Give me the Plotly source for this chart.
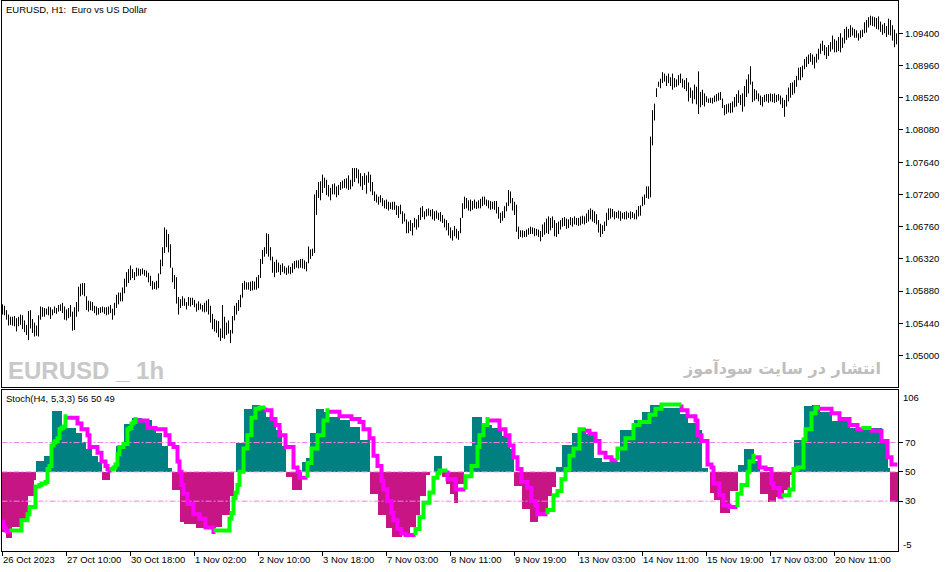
import plotly.graph_objects as go

# 价格数据: EURUSD H1 每根K线的最高价 / 最低价 (每行32根)
bar_high = [
    1.0570, 1.0568, 1.0562, 1.0556, 1.0553, 1.0553, 1.0554, 1.0551, 1.0553, 1.0556, 1.0555, 1.0548, 1.0542, 1.0561, 1.0562, 1.0550,
    1.0545, 1.0541, 1.0555, 1.0567, 1.0566, 1.0565, 1.0564, 1.0567, 1.0566, 1.0563, 1.0567, 1.0565, 1.0569, 1.0570, 1.0572, 1.0567,
    1.0563, 1.0565, 1.0569, 1.0560, 1.0566, 1.0573, 1.0594, 1.0598, 1.0599, 1.0599, 1.0581, 1.0575, 1.0574, 1.0573, 1.0568, 1.0567,
    1.0565, 1.0566, 1.0567, 1.0566, 1.0566, 1.0567, 1.0569, 1.0564, 1.0572, 1.0583, 1.0586, 1.0586, 1.0593, 1.0605, 1.0614, 1.0618,
    1.0623, 1.0618, 1.0614, 1.0620, 1.0619, 1.0618, 1.0619, 1.0617, 1.0616, 1.0613, 1.0609, 1.0602, 1.0600, 1.0602, 1.0612, 1.0631,
    1.0648, 1.0675, 1.0672, 1.0666, 1.0652, 1.0620, 1.0610, 1.0607, 1.0580, 1.0577, 1.0581, 1.0578, 1.0573, 1.0580, 1.0579, 1.0579,
    1.0576, 1.0571, 1.0574, 1.0571, 1.0569, 1.0572, 1.0575, 1.0577, 1.0568, 1.0557, 1.0550, 1.0548, 1.0547, 1.0537, 1.0569, 1.0553,
    1.0545, 1.0548, 1.0535, 1.0554, 1.0568, 1.0572, 1.0576, 1.0583, 1.0599, 1.0602, 1.0600, 1.0600, 1.0601, 1.0602, 1.0601, 1.0607,
    1.0610, 1.0632, 1.0644, 1.0648, 1.0667, 1.0666, 1.0648, 1.0635, 1.0628, 1.0631, 1.0627, 1.0624, 1.0626, 1.0622, 1.0620, 1.0623,
    1.0621, 1.0626, 1.0629, 1.0630, 1.0630, 1.0632, 1.0632, 1.0630, 1.0628, 1.0649, 1.0645, 1.0646, 1.0720, 1.0726, 1.0737, 1.0738,
    1.0747, 1.0743, 1.0740, 1.0733, 1.0729, 1.0734, 1.0735, 1.0731, 1.0733, 1.0737, 1.0739, 1.0741, 1.0742, 1.0746, 1.0740, 1.0756,
    1.0756, 1.0756, 1.0754, 1.0749, 1.0745, 1.0749, 1.0746, 1.0751, 1.0747, 1.0737, 1.0724, 1.0720, 1.0717, 1.0719, 1.0715, 1.0712,
    1.0713, 1.0710, 1.0709, 1.0710, 1.0710, 1.0705, 1.0704, 1.0706, 1.0697, 1.0694, 1.0686, 1.0683, 1.0685, 1.0681, 1.0688, 1.0686,
    1.0692, 1.0702, 1.0704, 1.0697, 1.0700, 1.0701, 1.0699, 1.0700, 1.0697, 1.0698, 1.0695, 1.0696, 1.0692, 1.0687, 1.0685, 1.0681,
    1.0675, 1.0671, 1.0677, 1.0673, 1.0670, 1.0688, 1.0708, 1.0717, 1.0715, 1.0712, 1.0713, 1.0711, 1.0713, 1.0710, 1.0712, 1.0714,
    1.0717, 1.0717, 1.0713, 1.0712, 1.0711, 1.0710, 1.0711, 1.0711, 1.0703, 1.0695, 1.0697, 1.0704, 1.0709, 1.0726, 1.0724, 1.0715,
    1.0710, 1.0706, 1.0676, 1.0671, 1.0671, 1.0670, 1.0672, 1.0674, 1.0676, 1.0675, 1.0674, 1.0673, 1.0672, 1.0670, 1.0679, 1.0682,
    1.0687, 1.0690, 1.0688, 1.0690, 1.0685, 1.0681, 1.0683, 1.0685, 1.0688, 1.0689, 1.0687, 1.0686, 1.0689, 1.0688, 1.0690, 1.0688,
    1.0688, 1.0690, 1.0691, 1.0690, 1.0694, 1.0699, 1.0701, 1.0699, 1.0697, 1.0693, 1.0685, 1.0680, 1.0678, 1.0683, 1.0695, 1.0701,
    1.0701, 1.0700, 1.0697, 1.0696, 1.0698, 1.0697, 1.0695, 1.0696, 1.0697, 1.0695, 1.0697, 1.0696, 1.0694, 1.0699, 1.0704, 1.0705,
    1.0717, 1.0720, 1.0731, 1.0731, 1.0799, 1.0835, 1.0844, 1.0865, 1.0874, 1.0878, 1.0887, 1.0885, 1.0882, 1.0885, 1.0880, 1.0885,
    1.0879, 1.0877, 1.0883, 1.0885, 1.0878, 1.0876, 1.0879, 1.0873, 1.0866, 1.0862, 1.0870, 1.0867, 1.0888, 1.0860, 1.0863, 1.0858,
    1.0854, 1.0851, 1.0852, 1.0852, 1.0855, 1.0857, 1.0859, 1.0860, 1.0851, 1.0842, 1.0843, 1.0844, 1.0845, 1.0847, 1.0853, 1.0857,
    1.0862, 1.0856, 1.0858, 1.0868, 1.0877, 1.0884, 1.0895, 1.0874, 1.0864, 1.0862, 1.0858, 1.0855, 1.0853, 1.0856, 1.0857, 1.0857,
    1.0858, 1.0857, 1.0858, 1.0856, 1.0857, 1.0855, 1.0852, 1.0849, 1.0856, 1.0866, 1.0872, 1.0873, 1.0876, 1.0882, 1.0893, 1.0894,
    1.0896, 1.0905, 1.0908, 1.0911, 1.0913, 1.0911, 1.0908, 1.0912, 1.0919, 1.0926, 1.0930, 1.0924, 1.0921, 1.0924, 1.0928, 1.0937,
    1.0932, 1.0930, 1.0935, 1.0940, 1.0934, 1.0946, 1.0949, 1.0946, 1.0951, 1.0948, 1.0946, 1.0944, 1.0940, 1.0944, 1.0945, 1.0955,
    1.0958, 1.0962, 1.0964, 1.0963, 1.0962, 1.0961, 1.0963, 1.0956, 1.0952, 1.0954, 1.0950, 1.0960, 1.0958, 1.0951, 1.0945, 1.0940,
]

bar_low = [
    1.0556, 1.0555, 1.0549, 1.0541, 1.0542, 1.0541, 1.0540, 1.0533, 1.0540, 1.0542, 1.0536, 1.0532, 1.0528, 1.0521, 1.0537, 1.0531,
    1.0526, 1.0527, 1.0526, 1.0549, 1.0553, 1.0553, 1.0556, 1.0555, 1.0550, 1.0555, 1.0558, 1.0557, 1.0560, 1.0561, 1.0558, 1.0549,
    1.0548, 1.0551, 1.0553, 1.0534, 1.0535, 1.0553, 1.0560, 1.0581, 1.0583, 1.0581, 1.0562, 1.0560, 1.0562, 1.0561, 1.0558, 1.0555,
    1.0556, 1.0558, 1.0559, 1.0557, 1.0555, 1.0556, 1.0558, 1.0549, 1.0555, 1.0565, 1.0570, 1.0574, 1.0574, 1.0585, 1.0594, 1.0599,
    1.0603, 1.0606, 1.0603, 1.0608, 1.0609, 1.0609, 1.0611, 1.0609, 1.0607, 1.0600, 1.0595, 1.0590, 1.0591, 1.0590, 1.0592, 1.0611,
    1.0622, 1.0640, 1.0648, 1.0641, 1.0620, 1.0600, 1.0591, 1.0571, 1.0556, 1.0565, 1.0568, 1.0568, 1.0563, 1.0568, 1.0567, 1.0569,
    1.0566, 1.0560, 1.0562, 1.0563, 1.0560, 1.0559, 1.0560, 1.0556, 1.0545, 1.0536, 1.0533, 1.0531, 1.0525, 1.0520, 1.0524, 1.0523,
    1.0528, 1.0530, 1.0517, 1.0530, 1.0548, 1.0556, 1.0561, 1.0566, 1.0579, 1.0590, 1.0590, 1.0590, 1.0588, 1.0589, 1.0590, 1.0590,
    1.0592, 1.0606, 1.0625, 1.0635, 1.0639, 1.0635, 1.0630, 1.0613, 1.0607, 1.0613, 1.0614, 1.0610, 1.0614, 1.0612, 1.0610, 1.0612,
    1.0611, 1.0613, 1.0618, 1.0620, 1.0619, 1.0620, 1.0619, 1.0618, 1.0615, 1.0626, 1.0632, 1.0636, 1.0640, 1.0692, 1.0715, 1.0712,
    1.0722, 1.0729, 1.0719, 1.0717, 1.0712, 1.0720, 1.0720, 1.0716, 1.0719, 1.0726, 1.0728, 1.0729, 1.0728, 1.0726, 1.0727, 1.0731,
    1.0737, 1.0742, 1.0735, 1.0731, 1.0726, 1.0733, 1.0721, 1.0736, 1.0724, 1.0719, 1.0711, 1.0709, 1.0706, 1.0709, 1.0704, 1.0701,
    1.0700, 1.0698, 1.0700, 1.0699, 1.0699, 1.0692, 1.0688, 1.0693, 1.0680, 1.0683, 1.0667, 1.0667, 1.0670, 1.0664, 1.0675, 1.0672,
    1.0675, 1.0685, 1.0689, 1.0686, 1.0690, 1.0691, 1.0690, 1.0686, 1.0684, 1.0687, 1.0685, 1.0683, 1.0681, 1.0675, 1.0671, 1.0664,
    1.0660, 1.0657, 1.0663, 1.0660, 1.0658, 1.0667, 1.0688, 1.0700, 1.0701, 1.0698, 1.0697, 1.0699, 1.0701, 1.0700, 1.0701, 1.0701,
    1.0704, 1.0706, 1.0704, 1.0701, 1.0699, 1.0700, 1.0699, 1.0694, 1.0687, 1.0681, 1.0684, 1.0688, 1.0697, 1.0704, 1.0708, 1.0698,
    1.0692, 1.0669, 1.0659, 1.0662, 1.0661, 1.0662, 1.0662, 1.0665, 1.0666, 1.0666, 1.0663, 1.0664, 1.0662, 1.0656, 1.0662, 1.0665,
    1.0667, 1.0666, 1.0671, 1.0674, 1.0663, 1.0662, 1.0666, 1.0672, 1.0676, 1.0677, 1.0673, 1.0674, 1.0678, 1.0676, 1.0679, 1.0678,
    1.0677, 1.0678, 1.0680, 1.0679, 1.0681, 1.0683, 1.0686, 1.0683, 1.0681, 1.0679, 1.0668, 1.0662, 1.0666, 1.0670, 1.0677, 1.0685,
    1.0687, 1.0689, 1.0686, 1.0688, 1.0687, 1.0684, 1.0687, 1.0686, 1.0686, 1.0688, 1.0686, 1.0688, 1.0686, 1.0686, 1.0690, 1.0691,
    1.0704, 1.0706, 1.0715, 1.0714, 1.0716, 1.0787, 1.0821, 1.0853, 1.0867, 1.0865, 1.0872, 1.0874, 1.0868, 1.0872, 1.0868, 1.0863,
    1.0866, 1.0867, 1.0869, 1.0872, 1.0866, 1.0864, 1.0861, 1.0847, 1.0852, 1.0844, 1.0850, 1.0843, 1.0830, 1.0839, 1.0842, 1.0840,
    1.0846, 1.0845, 1.0845, 1.0844, 1.0846, 1.0847, 1.0848, 1.0849, 1.0838, 1.0828, 1.0830, 1.0832, 1.0831, 1.0832, 1.0839, 1.0840,
    1.0845, 1.0842, 1.0833, 1.0840, 1.0853, 1.0858, 1.0870, 1.0846, 1.0848, 1.0850, 1.0847, 1.0842, 1.0840, 1.0846, 1.0847, 1.0845,
    1.0847, 1.0846, 1.0845, 1.0846, 1.0848, 1.0843, 1.0838, 1.0826, 1.0840, 1.0847, 1.0852, 1.0856, 1.0858, 1.0867, 1.0876, 1.0876,
    1.0880, 1.0891, 1.0894, 1.0898, 1.0901, 1.0897, 1.0892, 1.0900, 1.0904, 1.0912, 1.0916, 1.0910, 1.0905, 1.0909, 1.0915, 1.0918,
    1.0914, 1.0914, 1.0916, 1.0914, 1.0920, 1.0926, 1.0931, 1.0934, 1.0935, 1.0937, 1.0934, 1.0934, 1.0930, 1.0933, 1.0935, 1.0940,
    1.0941, 1.0948, 1.0951, 1.0950, 1.0949, 1.0946, 1.0945, 1.0942, 1.0938, 1.0940, 1.0935, 1.0938, 1.0937, 1.0930, 1.0921, 1.0925,
]

# Stoch(H4, 5,3,3) 线 (上升绿色, 下降洋红)
stoch_line = [
    16, 12, 10, 9, 9, 10, 10, 10, 10, 10, 17, 17, 17, 21, 26, 26, 26, 40, 40, 41, 42, 42, 43, 52, 54, 68, 70, 71, 73, 79, 80, 81,
    88, 87, 87, 87, 87, 87, 83, 83, 79, 79, 79, 75, 67, 67, 67, 67, 63, 63, 57, 57, 54, 52, 51, 52, 53, 55, 62, 67, 67, 69, 69, 79,
    80, 83, 84, 86, 85, 85, 85, 85, 85, 80, 80, 80, 80, 79, 79, 79, 79, 79, 75, 75, 69, 69, 67, 67, 57, 50, 41, 35, 35, 28, 28, 28,
    21, 21, 21, 18, 18, 18, 12, 12, 12, 12, 9, 10, 10, 10, 10, 10, 10, 10, 18, 22, 32, 36, 41, 50, 50, 66, 66, 75, 75, 87, 87, 93,
    93, 94, 94, 94, 92, 92, 92, 86, 86, 82, 82, 75, 75, 75, 67, 67, 67, 67, 53, 53, 50, 46, 46, 46, 46, 56, 56, 66, 66, 66, 75, 75,
    75, 85, 85, 92, 91, 91, 91, 91, 91, 88, 88, 88, 88, 88, 88, 86, 86, 86, 86, 84, 84, 79, 79, 79, 73, 73, 61, 61, 54, 54, 44, 38,
    38, 30, 30, 22, 17, 17, 11, 11, 8, 8, 7, 7, 7, 7, 7, 11, 11, 19, 19, 29, 29, 29, 36, 36, 46, 46, 49, 51, 51, 51, 51, 45,
    45, 45, 45, 38, 38, 38, 38, 38, 47, 47, 47, 54, 54, 54, 67, 75, 75, 82, 82, 86, 85, 85, 85, 85, 85, 79, 79, 79, 75, 75, 68, 68,
    60, 60, 52, 52, 43, 43, 43, 39, 39, 30, 30, 27, 21, 21, 21, 21, 21, 24, 24, 24, 34, 34, 37, 37, 45, 45, 52, 52, 61, 61, 66, 66,
    66, 79, 79, 79, 78, 78, 76, 76, 76, 71, 71, 63, 63, 63, 60, 60, 60, 58, 58, 58, 66, 66, 66, 66, 73, 73, 73, 73, 82, 82, 82, 84,
    84, 84, 84, 84, 89, 89, 89, 93, 93, 93, 96, 96, 96, 96, 96, 96, 96, 96, 96, 96, 92, 92, 92, 88, 88, 88, 88, 85, 75, 75, 71, 71,
    71, 55, 55, 53, 42, 42, 42, 34, 34, 27, 27, 27, 26, 26, 26, 26, 35, 35, 41, 41, 41, 50, 57, 57, 61, 60, 60, 53, 53, 53, 52, 52,
    52, 42, 39, 39, 39, 33, 33, 34, 34, 34, 38, 38, 52, 52, 53, 53, 53, 72, 79, 79, 79, 90, 90, 94, 94, 93, 93, 93, 93, 93, 93, 90,
    90, 90, 90, 86, 86, 86, 86, 86, 82, 82, 82, 82, 79, 79, 79, 80, 80, 80, 80, 78, 78, 78, 78, 78, 71, 71, 71, 60, 60, 55, 55, 55,
]

# 柱状图 (50以上青色, 50以下深洋红)
stoch_hist = [
    9, 9, 5, 5, 5, 13, 13, 13, 13, 18, 18, 18, 18, 34, 34, 34, 45, 58, 58, 58, 58, 61, 61, 61, 61, 92, 92, 92, 92, 92, 82, 82,
    80, 80, 80, 80, 80, 77, 77, 77, 71, 71, 66, 66, 66, 61, 61, 61, 57, 57, 45, 45, 45, 45, 50, 50, 50, 68, 68, 68, 68, 83, 83, 83,
    83, 87, 87, 87, 87, 87, 86, 86, 86, 86, 86, 79, 79, 77, 77, 77, 68, 68, 68, 53, 53, 38, 38, 38, 38, 16, 16, 15, 15, 15, 15, 15,
    15, 12, 12, 12, 12, 12, 12, 12, 12, 12, 12, 13, 13, 13, 21, 21, 21, 21, 34, 34, 50, 70, 70, 70, 70, 93, 93, 93, 93, 96, 96, 96,
    96, 93, 93, 93, 88, 88, 88, 88, 88, 79, 79, 79, 68, 68, 47, 47, 47, 38, 38, 38, 38, 38, 57, 57, 60, 60, 77, 77, 77, 93, 93, 93,
    93, 91, 91, 88, 88, 88, 88, 88, 88, 86, 86, 86, 86, 86, 81, 81, 81, 81, 81, 72, 72, 72, 72, 72, 35, 35, 35, 35, 21, 21, 21, 21,
    12, 12, 12, 6, 6, 6, 6, 6, 8, 8, 8, 8, 13, 13, 13, 21, 21, 34, 34, 34, 48, 48, 50, 50, 61, 61, 61, 61, 47, 47, 42, 42,
    35, 35, 29, 29, 42, 42, 42, 68, 68, 68, 68, 88, 88, 88, 88, 88, 82, 82, 82, 82, 82, 80, 80, 80, 80, 80, 75, 75, 75, 75, 66, 66,
    41, 41, 41, 41, 25, 25, 25, 25, 16, 16, 16, 16, 22, 22, 22, 22, 22, 34, 34, 40, 40, 54, 54, 54, 69, 69, 69, 69, 69, 77, 77, 77,
    80, 80, 80, 80, 76, 76, 76, 76, 60, 60, 60, 60, 57, 57, 57, 57, 57, 57, 57, 57, 57, 79, 79, 79, 79, 79, 79, 79, 86, 86, 86, 86,
    91, 91, 91, 91, 96, 96, 96, 96, 96, 96, 94, 94, 94, 94, 94, 94, 94, 94, 94, 90, 90, 90, 90, 84, 84, 84, 84, 79, 79, 79, 53, 53,
    53, 50, 36, 36, 31, 31, 31, 22, 22, 22, 22, 22, 37, 37, 37, 37, 55, 55, 55, 66, 66, 66, 66, 66, 58, 58, 58, 35, 35, 35, 35, 30,
    30, 30, 30, 33, 33, 33, 33, 38, 38, 38, 48, 48, 72, 72, 72, 72, 72, 95, 95, 95, 95, 96, 96, 96, 96, 91, 91, 91, 91, 91, 91, 85,
    85, 85, 85, 85, 85, 85, 85, 85, 80, 80, 80, 80, 80, 80, 80, 80, 80, 80, 80, 80, 80, 80, 80, 80, 72, 72, 72, 53, 30, 30, 30, 30,
]

levels = [30, 50, 70]

price_ticks = [1.05000, 1.05440, 1.05880, 1.06320, 1.06760, 1.07200,
               1.07640, 1.08080, 1.08520, 1.08960, 1.09400]
stoch_ticks = [70, 50, 30]

time_labels = ['26 Oct 2023', '27 Oct 10:00', '30 Oct 18:00', '1 Nov 02:00',
               '2 Nov 10:00', '3 Nov 18:00', '7 Nov 03:00', '8 Nov 11:00',
               '9 Nov 19:00', '13 Nov 03:00', '14 Nov 11:00', '15 Nov 19:00',
               '17 Nov 03:00', '20 Nov 11:00']
label_step = 32  # 每32根K线一个时间标签

FONT = 'Liberation Sans, Arial, sans-serif'
GREEN = '#00FF00'
MAGENTA = '#FF00FF'
TEAL = '#008080'
CRIMSON = '#C71585'
LEVEL = '#EE82EE'

W, H = 951, 572
ML, MR, MT, MB = 2, 53, 1, 21


def px(x):
    # 像素 -> paper 坐标
    return (x - ML) / (W - ML - MR)


def py(y):
    return (H - MB - y) / (H - MT - MB)


def stoch_segments(vals):
    # 按上升/下降把阶梯线分成绿色和洋红两组
    colors = []
    cur = None
    for i, v in enumerate(vals):
        if i > 0 and v > vals[i - 1]:
            cur = 'up'
        elif i > 0 and v < vals[i - 1]:
            cur = 'down'
        colors.append(cur)
    first = next(c for c in colors if c is not None)
    colors = [c if c is not None else first for c in colors]

    pts = {'up': ([], []), 'down': ([], [])}
    for i, v in enumerate(vals):
        xs, ys = pts[colors[i]]
        if i == 0 or colors[i] != colors[i - 1]:
            if xs:
                xs.append(None)
                ys.append(None)
            xs.append(i - 0.5)
            ys.append(vals[i - 1] if i > 0 else v)
        xs.extend([i - 0.5, i + 0.5])
        ys.extend([v, v])
    return pts


def plot_eurusd():
    n = len(bar_high)
    idx = list(range(n))

    fig = go.Figure()

    # 价格K线 (竖线: 最低价 -> 最高价)
    bx, by = [], []
    for i in idx:
        bx += [i, i, None]
        by += [bar_low[i], bar_high[i], None]
    fig.add_trace(go.Scatter(x=bx, y=by, mode='lines',
                             line=dict(color='black', width=1),
                             hoverinfo='skip', showlegend=False,
                             xaxis='x', yaxis='y'))

    # 柱状图
    fig.add_trace(go.Bar(x=idx, y=[h - 50 for h in stoch_hist], base=50,
                         width=1,
                         marker=dict(color=[TEAL if h >= 50 else CRIMSON
                                            for h in stoch_hist],
                                     line=dict(width=0)),
                         hoverinfo='skip', showlegend=False,
                         xaxis='x2', yaxis='y2'))

    # 水平线 30 / 50 / 70
    for lv in levels:
        fig.add_trace(go.Scatter(x=[-0.5, n], y=[lv, lv], mode='lines',
                                 line=dict(color=LEVEL, width=1,
                                           dash='6px,2px,2px,2px'),
                                 hoverinfo='skip', showlegend=False,
                                 xaxis='x2', yaxis='y2'))

    # Stoch 阶梯线
    seg = stoch_segments(stoch_line)
    for key, col in (('down', MAGENTA), ('up', GREEN)):
        xs, ys = seg[key]
        fig.add_trace(go.Scatter(x=xs, y=ys, mode='lines',
                                 line=dict(color=col, width=4),
                                 hoverinfo='skip', showlegend=False,
                                 xaxis='x2', yaxis='y2'))

    axis_font = dict(family=FONT, size=9.5, color='black')
    x_range = [-0.25, n - 0.25]

    fig.update_layout(
        width=W, height=H,
        margin=dict(l=ML, r=MR, t=MT, b=MB),
        paper_bgcolor='white', plot_bgcolor='white',
        bargap=0,
        xaxis=dict(domain=[0, 1], anchor='y', range=x_range,
                   showticklabels=False, showgrid=False, zeroline=False,
                   showline=True, mirror=True, linecolor='black', linewidth=1),
        xaxis2=dict(domain=[0, 1], anchor='y2', range=x_range, matches='x',
                    tickvals=[k * label_step for k in range(len(time_labels))],
                    ticks='outside', ticklen=4, tickcolor='black',
                    showticklabels=False, showgrid=False, zeroline=False,
                    showline=True, mirror=True, linecolor='black', linewidth=1),
        yaxis=dict(domain=[py(387), 1], anchor='x', side='right',
                   range=[1.04571, 1.09841], tickvals=price_ticks,
                   tickformat='.5f', ticks='outside', ticklen=4,
                   tickcolor='black', tickfont=axis_font,
                   showgrid=False, zeroline=False,
                   showline=True, mirror=True, linecolor='black', linewidth=1),
        yaxis2=dict(domain=[0, py(389.5)], anchor='x2', side='right',
                    range=[-4, 106.2], tickvals=stoch_ticks,
                    ticks='outside', ticklen=4, tickcolor='black',
                    tickfont=axis_font, showgrid=False, zeroline=False,
                    showline=True, mirror=True, linecolor='black', linewidth=1),
    )

    ann = []
    # 时间标签 (左对齐)
    for k, lab in enumerate(time_labels):
        ann.append(dict(x=k * label_step, xref='x2', y=0, yref='paper',
                        text=lab, showarrow=False, xanchor='left',
                        yanchor='top', yshift=-1, xshift=-2, font=axis_font))
    # 106 / -5 边界标签
    ann.append(dict(x=1, xref='paper', y=py(390), yref='paper', text='106',
                    showarrow=False, xanchor='left', yanchor='top',
                    xshift=3, font=axis_font))
    ann.append(dict(x=1, xref='paper', y=py(552), yref='paper', text='-5',
                    showarrow=False, xanchor='left', yanchor='bottom',
                    xshift=3, font=axis_font))
    # 标题
    ann.append(dict(x=px(4), xref='paper', y=py(10), yref='paper',
                    text='EURUSD, H1:\u00a0 Euro vs US Dollar', showarrow=False,
                    xanchor='left', yanchor='middle', font=axis_font))
    ann.append(dict(x=px(4), xref='paper', y=py(398), yref='paper',
                    text='Stoch(H4, 5,3,3) 56 50 49', showarrow=False,
                    xanchor='left', yanchor='middle', font=axis_font))
    # 水印
    ann.append(dict(x=px(6), xref='paper', y=py(370), yref='paper',
                    text='<b>EURUSD _ 1h</b>', showarrow=False,
                    xanchor='left', yanchor='middle',
                    font=dict(family='Liberation Sans', size=24,
                              color='#C8C8C8')))
    ann.append(dict(x=px(883), xref='paper', y=py(368), yref='paper',
                    text='<b>انتشار در سایت سودآموز</b>', showarrow=False,
                    xanchor='right', yanchor='middle',
                    font=dict(family='DejaVu Sans', size=16, color='#BEBEBE')))
    fig.update_layout(annotations=ann)

    return fig


if __name__ == '__main__':
    fig = plot_eurusd()
    # 去掉页面默认边距, 隐藏工具栏
    fig.write_html('out.html', config={'displayModeBar': False},
                   post_script="document.body.style.margin='0px';")
